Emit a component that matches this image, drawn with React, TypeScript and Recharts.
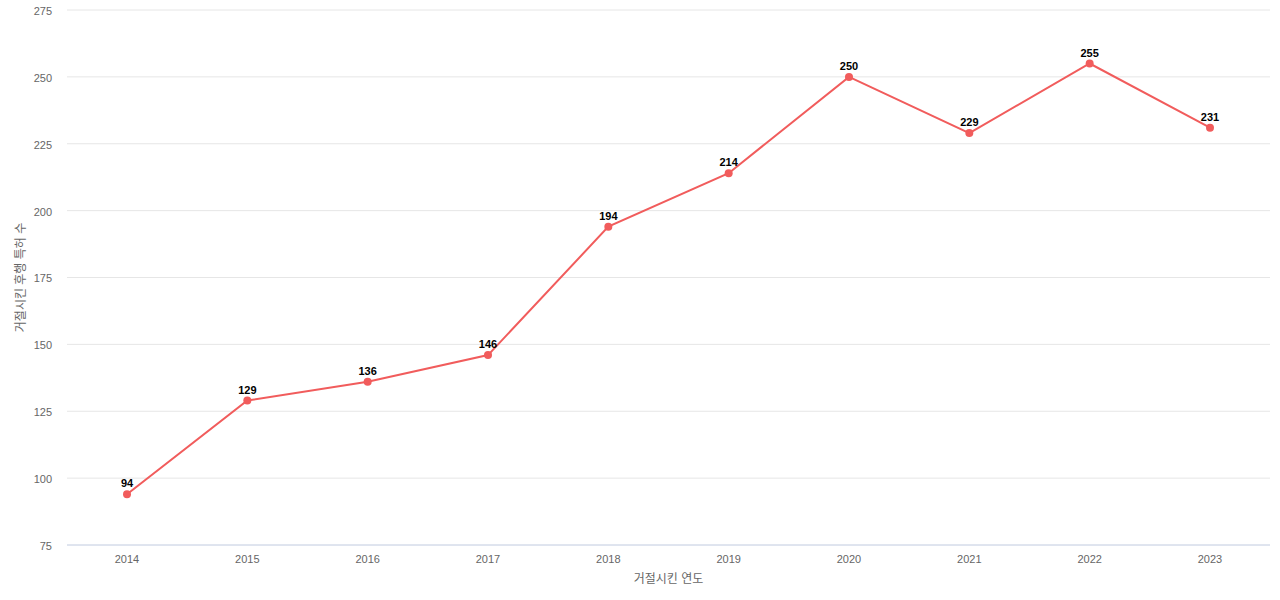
import React from "react";
import { LineChart, Line, XAxis, YAxis, CartesianGrid, LabelList, Label } from "recharts";

const years = ["2014", "2015", "2016", "2017", "2018", "2019", "2020", "2021", "2022", "2023"];
const counts = [94, 129, 136, 146, 194, 214, 250, 229, 255, 231];
const yTicks = [75, 100, 125, 150, 175, 200, 225, 250, 275];

const data = years.map((y, i) => ({ year: y, count: counts[i] }));

const FONT = "'Liberation Sans', Arial, 'Noto Sans CJK KR', sans-serif";
const LINE = "#f15c5c";

export default function App() {
  return (
    <div style={{ position: "fixed", left: 0, top: 0, width: 1280, height: 600, background: "#fff", fontFamily: FONT }}>
      <LineChart width={1280} height={600} data={data} margin={{ top: 10, right: 10, bottom: 0, left: 0 }}>
        <CartesianGrid vertical={false} stroke="#e6e6e6" />
        <XAxis
          dataKey="year"
          height={55}
          stroke="#ccd6eb"
          tickLine={false}
          tickMargin={4}
          padding={{ left: 60, right: 60 }}
          tick={{ fill: "#666666", fontSize: 11, fontFamily: FONT }}
        >
          <Label value="거절시킨 연도" position="insideBottom" offset={17} fill="#666666" fontSize={12} fontFamily={FONT} />
        </XAxis>
        <YAxis
          width={67}
          domain={[75, 275]}
          ticks={yTicks}
          axisLine={false}
          tickLine={false}
          tickMargin={9}
          dy={1}
          tick={{ fill: "#666666", fontSize: 11, fontFamily: FONT }}
        >
          <Label value="거절시킨 후행 특허 수" angle={-90} position="insideLeft" offset={21} fill="#666666" fontSize={12} fontFamily={FONT} style={{ textAnchor: "middle" }} />
        </YAxis>
        <Line
          type="linear"
          dataKey="count"
          stroke={LINE}
          strokeWidth={2}
          dot={{ r: 4, fill: LINE, stroke: LINE, strokeWidth: 0 }}
          isAnimationActive={false}
        >
          <LabelList dataKey="count" position="top" offset={7} fill="#000000" fontSize={11} fontWeight="bold" fontFamily={FONT} />
        </Line>
      </LineChart>
    </div>
  );
}
